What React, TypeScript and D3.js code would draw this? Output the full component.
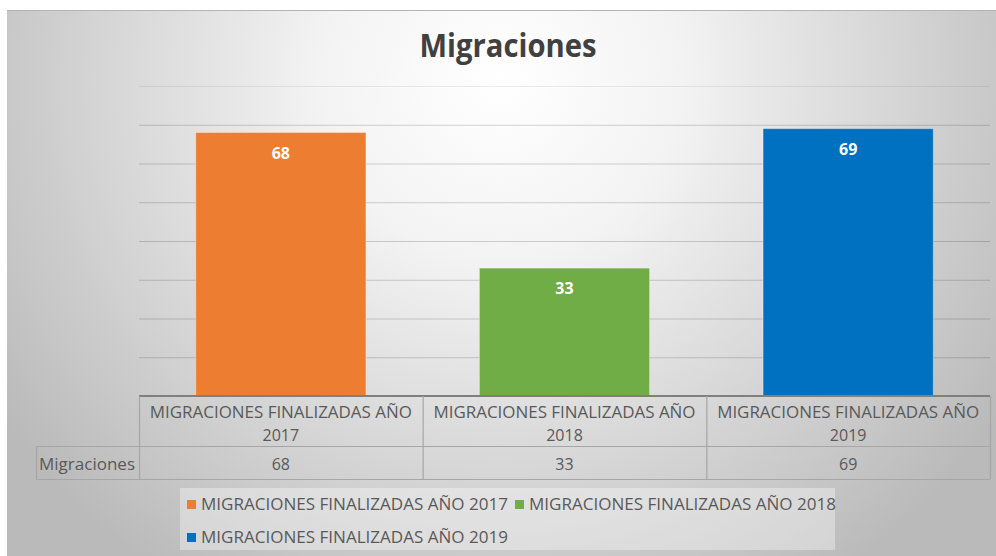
import React from "react";
import * as d3 from "d3";

const categories = ["MIGRACIONES FINALIZADAS AÑO 2017", "MIGRACIONES FINALIZADAS AÑO 2018", "MIGRACIONES FINALIZADAS AÑO 2019"];
const headerLine1 = ["MIGRACIONES FINALIZADAS AÑO", "MIGRACIONES FINALIZADAS AÑO", "MIGRACIONES FINALIZADAS AÑO"];
const headerLine2 = ["2017", "2018", "2019"];
const values = [68, 33, 69];
const colors = ["#ED7D31", "#70AD47", "#0070C0"];
const seriesName = "Migraciones";
const title = "Migraciones";
const yTicks = [0, 10, 20, 30, 40, 50, 60, 70, 80];

const W = 996;
const H = 556;
const FONT = "'Open Sans', 'Noto Sans', sans-serif";

export default function App() {
  const plotLeft = 139;
  const plotRight = 990;
  const baseY = 396;
  const y = d3.scaleLinear().domain([0, 80]).range([baseY, 86]);
  const x = d3.scaleBand<string>().domain(categories).range([plotLeft, plotRight]).paddingInner(0.4).paddingOuter(0.2);
  const step = x.step();
  const colStart = (c: string) => (x(c) as number) - step * 0.2;

  const headerBottom = 446;
  const rowBottom = 479;
  const tableLeft = 36;

  const textColor = "#595959";

  return (
    <svg width={W} height={H} style={{ position: "absolute", left: 0, top: 0 }} fontFamily={FONT}>
      <defs>
        <radialGradient id="bg" cx="500" cy="80" r="600" gradientUnits="userSpaceOnUse">
          <stop offset="0" stopColor="#ffffff" />
          <stop offset="0.3" stopColor="#f3f3f3" />
          <stop offset="1" stopColor="#bababa" />
        </radialGradient>
      </defs>
      <rect x={0} y={0} width={W} height={H} fill="#ffffff" />
      <rect x={7} y={10} width={W - 7} height={H - 10} fill="url(#bg)" />
      <line x1={7} x2={W} y1={10.5} y2={10.5} stroke="#b4b4b4" strokeWidth={1} />

      <text x={508} y={57} textAnchor="middle" fontSize={32} fontWeight="bold" fill="#404040" textLength={177} lengthAdjust="spacingAndGlyphs">
        {title}
      </text>

      {yTicks.filter((t) => t > 0).map((t) => (
        <line key={t} x1={plotLeft} x2={plotRight} y1={y(t) + 0.5} y2={y(t) + 0.5} stroke="#000" strokeOpacity={t === 80 ? 0.07 : 0.17} strokeWidth={1.2} />
      ))}

      {categories.map((c, i) => (
        <g key={c}>
          <rect x={x(c)} y={y(values[i])} width={x.bandwidth()} height={baseY - y(values[i])} fill={colors[i]} stroke="#ffffff" strokeOpacity={0.35} strokeWidth={1} />
          <text x={(x(c) as number) + x.bandwidth() / 2} y={y(values[i]) + 26} textAnchor="middle" fontSize={16} fontWeight="bold" fill="#ffffff">
            {values[i]}
          </text>
        </g>
      ))}

      {/* data table */}
      <line x1={plotLeft} x2={plotRight} y1={baseY} y2={baseY} stroke="#7f7f7f" strokeWidth={2} />
      <line x1={tableLeft} x2={plotRight} y1={headerBottom + 0.5} y2={headerBottom + 0.5} stroke="#a6a6a6" strokeWidth={1.2} />
      <line x1={tableLeft} x2={plotRight} y1={rowBottom + 0.5} y2={rowBottom + 0.5} stroke="#a6a6a6" strokeWidth={1.2} />
      <line x1={tableLeft + 0.5} x2={tableLeft + 0.5} y1={headerBottom} y2={rowBottom} stroke="#a6a6a6" strokeWidth={1.2} />
      {categories.map((c) => (
        <line key={"v" + c} x1={colStart(c) + 0.5} x2={colStart(c) + 0.5} y1={baseY} y2={rowBottom} stroke="#a6a6a6" strokeWidth={1.2} />
      ))}
      <line x1={plotRight + 0.5} x2={plotRight + 0.5} y1={baseY} y2={rowBottom} stroke="#a6a6a6" strokeWidth={1.2} />

      {categories.map((c, i) => {
        const cx = colStart(c) + step / 2;
        return (
          <g key={"t" + c} fill={textColor} fontSize={16}>
            <text x={cx} y={418} textAnchor="middle" textLength={262} lengthAdjust="spacingAndGlyphs">{headerLine1[i]}</text>
            <text x={cx} y={441} textAnchor="middle">{headerLine2[i]}</text>
            <text x={cx} y={470} textAnchor="middle">{values[i]}</text>
          </g>
        );
      })}
      <text x={39} y={470} fontSize={16} fill={textColor} textLength={96} lengthAdjust="spacingAndGlyphs">{seriesName}</text>

      {/* legend */}
      <rect x={180} y={488} width={655} height={62} fill="#ffffff" fillOpacity={0.35} />
      {categories.map((c, i) => {
        const lx = i === 1 ? 515 : 187;
        const ly = i === 2 ? 537 : 504;
        return (
          <g key={"l" + c}>
            <rect x={lx} y={ly - 4} width={9} height={9} fill={colors[i]} />
            <text x={lx + 14} y={ly + 6} fontSize={16} fill={textColor} textLength={307} lengthAdjust="spacingAndGlyphs">{c}</text>
          </g>
        );
      })}
    </svg>
  );
}
